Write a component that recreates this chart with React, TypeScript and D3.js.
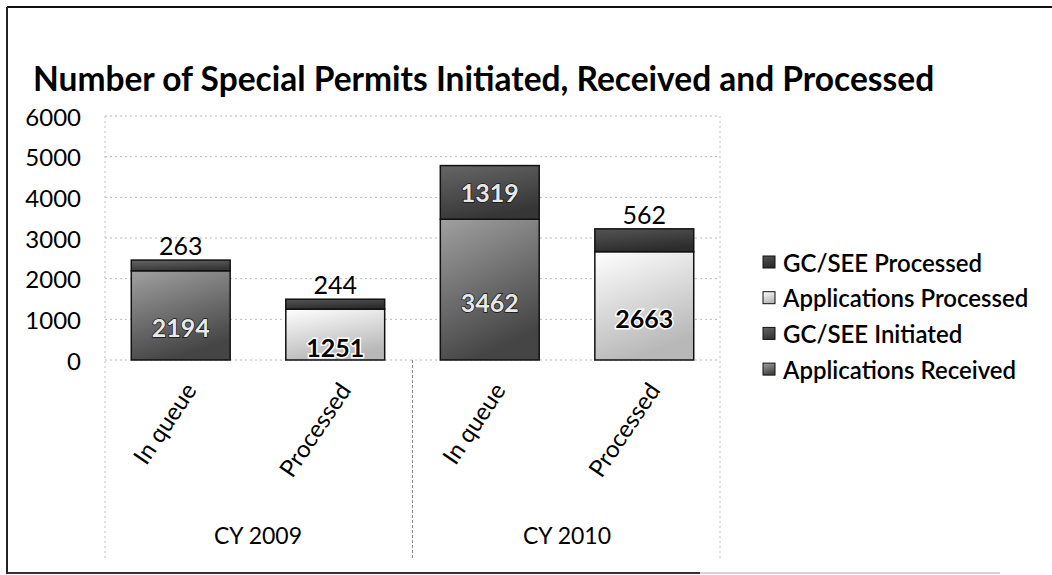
import * as d3 from "d3";

const categories = ["In queue", "Processed", "In queue", "Processed"];
const groups = ["CY 2009", "CY 2010"];
const groupOf = [0, 0, 1, 1];

const applicationsReceived = [2194, 0, 3462, 0];
const gcSeeInitiated = [263, 0, 1319, 0];
const applicationsProcessed = [0, 1251, 0, 2663];
const gcSeeProcessed = [0, 244, 0, 562];

const seriesNames = [
  "Applications Received",
  "GC/SEE Initiated",
  "Applications Processed",
  "GC/SEE Processed",
];
const yTicks = [0, 1000, 2000, 3000, 4000, 5000, 6000];

const WIDTH = 1052;
const HEIGHT = 575;
const PLOT = { left: 105, right: 720, top: 116, bottom: 360 };
const FONT = "Lato, 'Open Sans', sans-serif";

// one gradient per series, grey like the scanned original
const FILLS = [
  { id: "gRecv", top: "#a0a0a0", bottom: "#454545", dark: true },
  { id: "gInit", top: "#666", bottom: "#363636", dark: true },
  { id: "gProc", top: "#ffffff", bottom: "#b8b8b8", dark: false },
  { id: "gGcp", top: "#555", bottom: "#2c2c2c", dark: true },
];

export default function App() {
  const rows = categories.map((c, i) => ({
    idx: i,
    [seriesNames[0]]: applicationsReceived[i],
    [seriesNames[1]]: gcSeeInitiated[i],
    [seriesNames[2]]: applicationsProcessed[i],
    [seriesNames[3]]: gcSeeProcessed[i],
  }));

  const stacked = d3.stack<any>().keys(seriesNames)(rows);

  const x = d3
    .scaleBand<number>()
    .domain(categories.map((_, i) => i))
    .range([PLOT.left, PLOT.right])
    .paddingInner(0.36)
    .paddingOuter(0.17);

  const y = d3.scaleLinear().domain([0, 6000]).range([PLOT.bottom, PLOT.top]);

  const groupCenters = groups.map((_, g) => {
    const idx = categories.map((_, i) => i).filter((i) => groupOf[i] === g);
    const a = x(idx[0])! + x.bandwidth() / 2;
    const b = x(idx[idx.length - 1])! + x.bandwidth() / 2;
    return (a + b) / 2;
  });
  const groupDivider = (x(1)! + x.bandwidth() + x(2)!) / 2;

  return (
    <svg
      width={WIDTH}
      height={HEIGHT}
      style={{ position: "absolute", left: 0, top: 0, background: "#fff" }}
      fontFamily={FONT}
    >
      <defs>
        {FILLS.map((f) => (
          <linearGradient key={f.id} id={f.id} x1="0" y1="0" x2="0.35" y2="1">
            <stop offset="0%" stopColor={f.top} />
            <stop offset="100%" stopColor={f.bottom} />
          </linearGradient>
        ))}
      </defs>

      {/* outer frame */}
      <line x1={7} x2={WIDTH} y1={7} y2={7} stroke="#111" strokeWidth={2} />
      <line x1={7} x2={7} y1={7} y2={574} stroke="#222" strokeWidth={2} />
      <line x1={7} x2={700} y1={573} y2={573} stroke="#333" strokeWidth={2} />
      <line x1={700} x2={1000} y1={573} y2={573} stroke="#aaa" strokeWidth={1} />

      <text x={33} y={91} fontSize={33.5} fontWeight={700} fill="#000">
        Number of Special Permits Initiated, Received and Processed
      </text>

      {/* grid */}
      {yTicks.map((t) => (
        <g key={t}>
          <line
            x1={PLOT.left}
            x2={PLOT.right}
            y1={y(t)}
            y2={y(t)}
            stroke="#b8b8b8"
            strokeDasharray="2,3"
          />
          <text
            x={81}
            y={y(t)}
            textAnchor="end"
            dominantBaseline="central"
            fontSize={24}
            fill="#000"
          >
            {t}
          </text>
        </g>
      ))}
      <line x1={PLOT.left} x2={PLOT.left} y1={PLOT.top} y2={560} stroke="#c0c0c0" strokeDasharray="2,3" />
      <line x1={PLOT.right} x2={PLOT.right} y1={PLOT.top} y2={560} stroke="#c0c0c0" strokeDasharray="2,3" />
      <line x1={groupDivider} x2={groupDivider} y1={PLOT.bottom} y2={560} stroke="#888" strokeDasharray="3,2" />

      {/* bars */}
      {stacked.map((s, si) =>
        s.map((d, i) => {
          const v = d[1] - d[0];
          if (!v) return null;
          return (
            <rect
              key={`${si}-${i}`}
              x={x(i)!}
              y={y(d[1])}
              width={x.bandwidth()}
              height={y(d[0]) - y(d[1])}
              fill={`url(#${FILLS[si].id})`}
              stroke="#111"
              strokeWidth={1.5}
            />
          );
        })
      )}

      {/* value labels */}
      {stacked.map((s, si) =>
        s.map((d, i) => {
          const v = d[1] - d[0];
          if (!v) return null;
          const cx = x(i)! + x.bandwidth() / 2;
          const h = y(d[0]) - y(d[1]);
          if (h < 30) {
            return (
              <text
                key={`l${si}-${i}`}
                x={cx}
                y={y(d[1]) - 15}
                textAnchor="middle"
                dominantBaseline="central"
                fontSize={25}
                fill="#000"
              >
                {v}
              </text>
            );
          }
          const dark = FILLS[si].dark;
          return (
            <text
              key={`l${si}-${i}`}
              x={cx}
              y={(y(d[0]) + y(d[1])) / 2 + (si % 2 === 0 ? 12 : 0)}
              textAnchor="middle"
              dominantBaseline="central"
              fontSize={25}
              fontWeight={700}
              fill={dark ? "#e8e8e8" : "#000"}
              stroke={dark ? "#111" : "#fff"}
              strokeWidth={dark ? 1.4 : 3}
              paintOrder="stroke"
            >
              {v}
            </text>
          );
        })
      )}

      {/* category labels */}
      {categories.map((c, i) => {
        const cx = x(i)! + x.bandwidth() / 2 + 9;
        return (
          <text
            key={`c${i}`}
            transform={`translate(${cx},385) rotate(-56)`}
            textAnchor="end"
            dominantBaseline="central"
            fontSize={24}
            fill="#000"
          >
            {c}
          </text>
        );
      })}
      {groups.map((g, gi) => (
        <text
          key={g}
          x={groupCenters[gi]}
          y={535}
          textAnchor="middle"
          dominantBaseline="central"
          fontSize={23}
          fill="#000"
        >
          {g}
        </text>
      ))}

      {/* legend */}
      {seriesNames
        .map((n, i) => ({ n, i }))
        .reverse()
        .map(({ n, i }, k) => {
          const ly = 262 + k * 35.7;
          return (
            <g key={n}>
              <rect
                x={763}
                y={ly - 6}
                width={12}
                height={12}
                fill={`url(#${FILLS[i].id})`}
                stroke="#111"
                strokeWidth={1}
              />
              <text x={783} y={ly} dominantBaseline="central" fontSize={24} fontWeight={600} fill="#000">
                {n}
              </text>
            </g>
          );
        })}
    </svg>
  );
}
